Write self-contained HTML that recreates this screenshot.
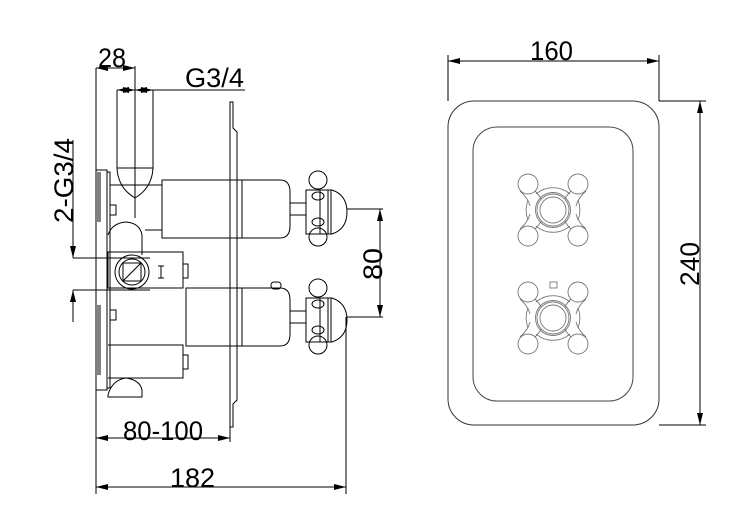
<!DOCTYPE html>
<html><head><style>
html,body{margin:0;padding:0;background:#fff}
svg{display:block}
text{font-family:"Liberation Sans",sans-serif;fill:#000;font-size:27px}
</style></head><body>
<svg width="745" height="532" viewBox="0 0 745 532" xmlns="http://www.w3.org/2000/svg">
<defs>
<marker id="a" viewBox="0 0 12 6" refX="12" refY="3" markerWidth="12" markerHeight="6" orient="auto-start-reverse" markerUnits="userSpaceOnUse"><path d="M0,0L12,3L0,6z" fill="#000"/></marker>
</defs>
<g fill="none" stroke="#000" stroke-width="1">
<!-- front view -->
<rect x="448" y="101" width="211" height="324" rx="26" stroke="#333"/>
<rect x="473" y="127" width="160" height="274" rx="24" stroke="#444"/>
<g stroke="#777" stroke-width="0.9">
<g id="k">
<circle cx="553" cy="210" r="16"/><circle cx="553" cy="210" r="13"/><circle cx="553" cy="210" r="17.5"/>
<path d="M536,194 A26,26 0 0 1 570,194 M536,226 A26,26 0 0 0 570,226 M528,200 A28,28 0 0 0 528,220 M578,200 A28,28 0 0 1 578,220"/>
<path d="M520,191 Q528,198 530,206 M535,191 Q540,196 541,199 M586,191 Q578,198 576,206 M571,191 Q566,196 565,199 M520,229 Q528,222 530,214 M535,229 Q540,224 541,221 M586,229 Q578,222 576,214 M571,229 Q566,224 565,221"/>
<circle cx="528" cy="184" r="10"/><circle cx="578" cy="184" r="10"/>
<circle cx="528" cy="236" r="10"/><circle cx="578" cy="236" r="10"/>
</g>
<use href="#k" y="108"/>
<rect x="550" y="282" width="7" height="6"/>
</g>
<!-- 160 dim -->
<line x1="448" y1="55" x2="448" y2="101"/><line x1="659" y1="55" x2="659" y2="101"/>
<line x1="448" y1="61" x2="659" y2="61" marker-start="url(#a)" marker-end="url(#a)"/>
<!-- 240 dim -->
<line x1="659" y1="101" x2="706" y2="101"/><line x1="659" y1="425" x2="706" y2="425"/>
<line x1="700" y1="101" x2="700" y2="425" marker-start="url(#a)" marker-end="url(#a)"/>

<!-- side view -->
<path d="M230,102 L233,102 L233,128 L237,132 L237,400 L233,404 L233,427 L230,427 Z"/>
<rect x="96" y="170" width="11" height="220"/>
<path d="M98,172v50M100,172v50M98,305v70M100,305v70"/>
<rect x="107" y="172" width="3" height="216"/>
<path d="M117,90 V168 M153,90 V168 M117,168 Q118,188 135,198 Q152,188 153,168 M117,168 H153"/>
<line x1="135" y1="80" x2="135" y2="218"/>
<rect x="110" y="205" width="6" height="10"/>
<path d="M162,180 H280 Q290,180 290,192 V226 Q290,238 280,238 H162 Z"/>
<line x1="242" y1="180" x2="242" y2="238"/>
<line x1="110" y1="185" x2="162" y2="185"/>
<line x1="145" y1="230" x2="162" y2="230"/>
<path d="M108,235 Q112,223 126,222 Q140,223 142,235 V255"/>
<rect x="108" y="252" width="75" height="36"/>
<circle cx="132" cy="272" r="17"/><circle cx="132" cy="272" r="13"/>
<rect x="123" y="263" width="18" height="18"/>
<line x1="123" y1="281" x2="141" y2="263"/>
<path d="M158,266h6M158,278h6M161,266v12"/>
<rect x="183" y="264" width="5" height="14"/>
<rect x="110" y="310" width="6" height="10"/>
<path d="M186,288 H280 Q290,288 290,300 V334 Q290,346 280,346 H186 Z"/>
<line x1="242" y1="288" x2="242" y2="346"/>
<rect x="271" y="282" width="10" height="7" rx="3"/>
<path d="M108,345 H183 V378 H108"/>
<rect x="183" y="355" width="5" height="14"/>
<path d="M108,395 Q112,380 126,378 Q140,380 142,390 V397 H108 Z"/>
<g id="h">
<rect x="290" y="203" width="16" height="12"/>
<rect x="306" y="190" width="14" height="44"/>
<path d="M320,190 H332 Q347,195 347,212 Q347,229 332,234 H320 Z"/>
<line x1="328" y1="190" x2="328" y2="234"/><line x1="331" y1="190" x2="331" y2="234"/>
<circle cx="318" cy="180" r="9"/><circle cx="318" cy="237" r="9"/>
<ellipse cx="318" cy="196" rx="6" ry="4"/><ellipse cx="318" cy="222" rx="6" ry="4"/>
</g>
<use href="#h" y="108"/>
<line x1="347" y1="209" x2="383" y2="209"/><line x1="347" y1="317" x2="383" y2="317"/>
<line x1="380" y1="209" x2="380" y2="317" marker-start="url(#a)" marker-end="url(#a)"/>
<line x1="96" y1="68" x2="96" y2="494"/>
<line x1="346" y1="317" x2="346" y2="494"/>
<line x1="96" y1="487" x2="346" y2="487" marker-start="url(#a)" marker-end="url(#a)"/>
<line x1="230" y1="427" x2="230" y2="442"/>
<line x1="96" y1="438" x2="230" y2="438" marker-start="url(#a)" marker-end="url(#a)"/>
<line x1="135" y1="66" x2="135" y2="80"/>
<line x1="96" y1="68" x2="135" y2="68" marker-start="url(#a)" marker-end="url(#a)"/>
<line x1="117" y1="90" x2="245" y2="90"/>
<line x1="117" y1="90" x2="135" y2="90" marker-start="url(#a)" marker-end="url(#a)"/>
<line x1="135" y1="90" x2="153" y2="90" marker-start="url(#a)" marker-end="url(#a)"/>
<line x1="73" y1="258" x2="150" y2="258"/><line x1="73" y1="290" x2="150" y2="290"/>
<line x1="73" y1="140" x2="73" y2="258" marker-end="url(#a)"/>
<line x1="73" y1="322" x2="73" y2="290" marker-end="url(#a)"/>
</g>
<text x="98" y="67" textLength="28" lengthAdjust="spacingAndGlyphs">28</text>
<text x="185" y="87" textLength="59" lengthAdjust="spacingAndGlyphs">G3/4</text>
<text x="123" y="440" textLength="80" lengthAdjust="spacingAndGlyphs">80-100</text>
<text x="170" y="487" textLength="45" lengthAdjust="spacingAndGlyphs">182</text>
<text x="530" y="60" textLength="43" lengthAdjust="spacingAndGlyphs">160</text>
<text transform="translate(382,280) rotate(-90)" textLength="32" lengthAdjust="spacingAndGlyphs">80</text>
<text transform="translate(699,286) rotate(-90)" textLength="44" lengthAdjust="spacingAndGlyphs">240</text>
<text transform="translate(73,223) rotate(-90)" textLength="85" lengthAdjust="spacingAndGlyphs">2-G3/4</text>
</svg>
</body></html>
